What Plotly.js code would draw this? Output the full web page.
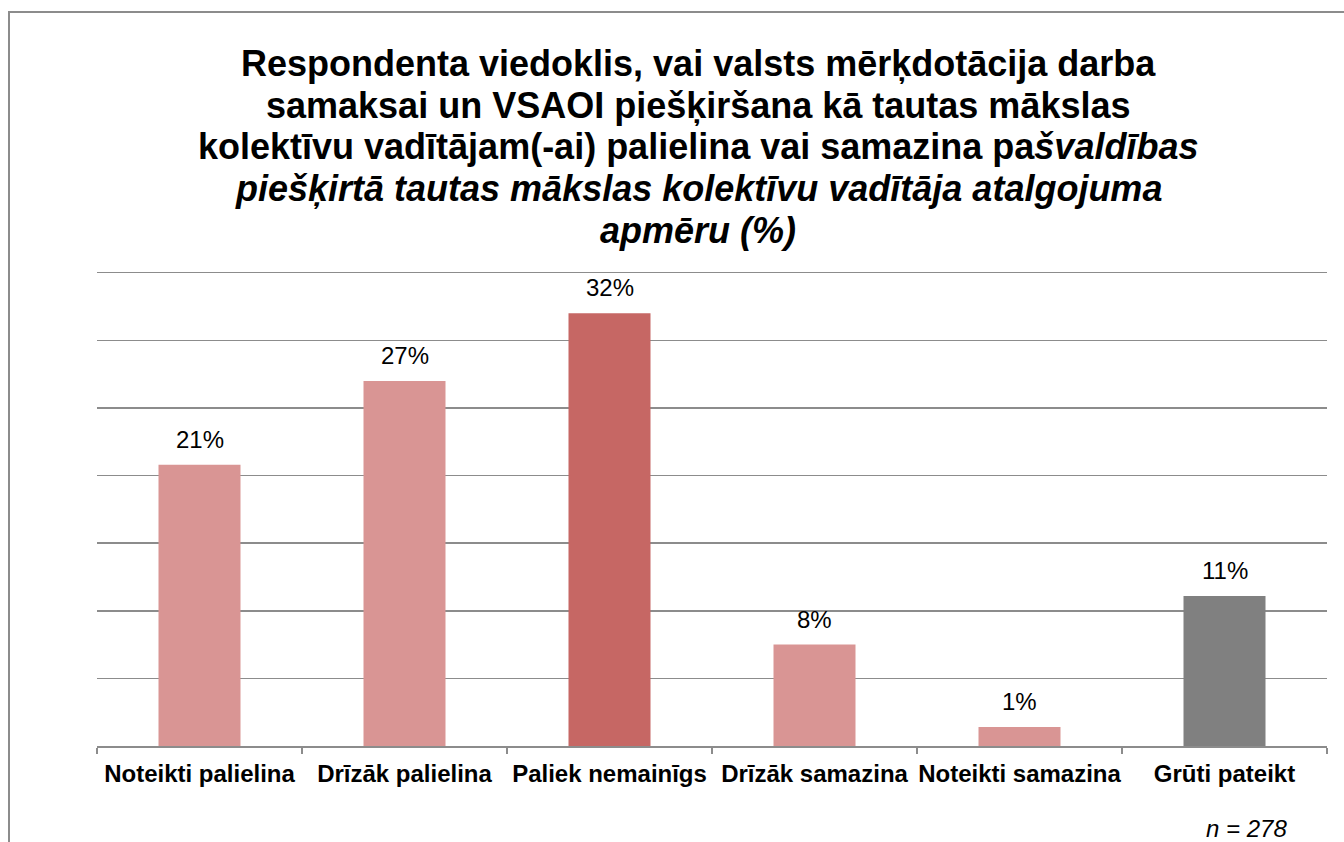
<!DOCTYPE html>
<html><head><meta charset="utf-8">
<script src="https://cdn.plot.ly/plotly-3.0.1.min.js"></script>
<style>
html,body{margin:0;padding:0;background:#fff;}
#chart{width:1344px;height:842px;}
#frame{position:absolute;left:8px;top:11px;width:1400px;height:900px;border-left:2px solid #8c8c8c;border-top:2px solid #8c8c8c;pointer-events:none;}
</style></head>
<body>
<div id="chart"></div>
<div id="frame"></div>
<script>
const categories = ["Noteikti palielina","Drīzāk palielina","Paliek nemainīgs","Drīzāk samazina","Noteikti samazina","Grūti pateikt"];
const values = [20.8, 27.0, 32.0, 7.5, 1.4, 11.1];
const barColors = ["#D99594","#D99594","#C66764","#D99594","#D99594","#808080"];
const labels = values.map(v => Math.round(v) + "%");
const titleLines = [
  "<b>Respondenta viedoklis, vai valsts mērķdotācija darba</b>",
  "<b>samaksai un VSAOI piešķiršana kā tautas mākslas</b>",
  "<b>kolektīvu vadītājam(-ai) palielina vai samazina pa<i>švaldības</i></b>",
  "<b><i>piešķirtā tautas mākslas kolektīvu vadītāja atalgojuma</i></b>",
  "<b><i>apmēru (%)</i></b>"
];
const noteText = "<i>n = 278</i>";

const FONT = "Liberation Sans, Arial, sans-serif";
const plotTop = 270;
const titleCenters = [63, 105, 146, 188, 230];

const trace = {
  type: "bar",
  x: categories,
  y: values,
  marker: {color: barColors},
  hoverinfo: "skip"
};

const annotations = titleLines.map((t, i) => ({
  text: t, xref: "paper", yref: "paper", x: 0.5, y: 1,
  xanchor: "center", yanchor: "middle", xshift: -14, yshift: plotTop - titleCenters[i],
  showarrow: false, font: {family: FONT, size: 36, color: "#000"}
}));
categories.forEach((c, i) => annotations.push({
  text: labels[i], xref: "x", yref: "y", x: c, y: values[i],
  xanchor: "center", yanchor: "bottom", yshift: 10,
  showarrow: false, font: {family: FONT, size: 24, color: "#000"}
}));
annotations.push({
  text: noteText, xref: "paper", yref: "paper", x: 1, y: 0,
  xanchor: "right", yanchor: "middle", xshift: -38, yshift: -(828 - 746),
  showarrow: false, font: {family: FONT, size: 24, color: "#000"}
});

const layout = {
  width: 1344, height: 842,
  margin: {l: 97, r: 17, t: plotTop, b: 96},
  paper_bgcolor: "#fff", plot_bgcolor: "#fff",
  bargap: 0.6,
  showlegend: false,
  font: {family: FONT, color: "#000"},
  xaxis: {
    type: "category",
    showline: true, linecolor: "#8c8c8c", linewidth: 1.5,
    ticks: "outside", tickson: "boundaries", ticklen: 6, tickcolor: "#8c8c8c", tickwidth: 1.5,
    tickangle: 0, automargin: false, ticklabelstandoff: 6,
    tickfont: {family: FONT, size: 24, color: "#000", weight: "bold"},
    showgrid: false, fixedrange: true
  },
  yaxis: {
    range: [0, 35.2], dtick: 5,
    showgrid: true, gridcolor: "#8c8c8c", gridwidth: 1.5,
    showticklabels: false, zeroline: false, showline: false, ticks: "", fixedrange: true
  },
  annotations: annotations
};

Plotly.newPlot("chart", [trace], layout, {displayModeBar: false, staticPlot: true});
</script>
</body></html>
